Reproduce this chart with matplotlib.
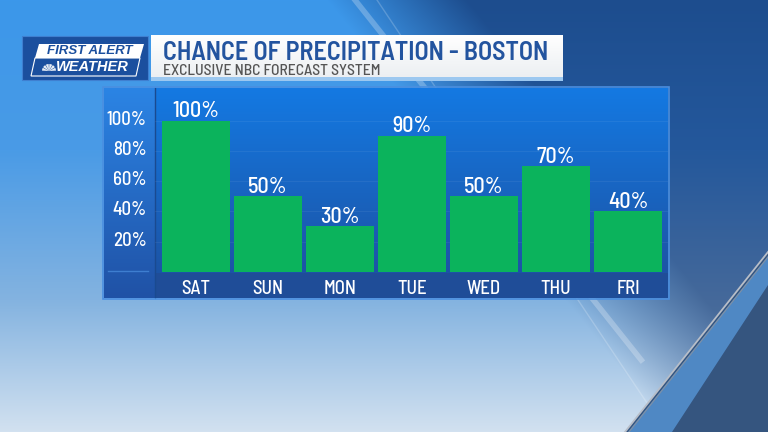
import numpy as np
import matplotlib
matplotlib.use('Agg')
import matplotlib.pyplot as plt
import matplotlib.transforms as mtrans
from matplotlib.patches import Rectangle, Polygon, Wedge
from matplotlib.colors import to_rgb

# chart data
days = ['SAT', 'SUN', 'MON', 'TUE', 'WED', 'THU', 'FRI']
precip = [100, 50, 30, 90, 50, 70, 40]
ytick_vals = [20, 40, 60, 80, 100]
ytick_labels = ['20%', '40%', '60%', '80%', '100%']
title = 'CHANCE OF PRECIPITATION - BOSTON'
subtitle = 'EXCLUSIVE NBC FORECAST SYSTEM'

W, H = 768, 432
plt.rcParams['font.family'] = ['Barlow Semi Condensed', 'Roboto Condensed', 'DejaVu Sans']

fig = plt.figure(figsize=(7.68, 4.32), dpi=100)
bg = fig.add_axes([0, 0, 1, 1])
bg.set_xlim(0, W)
bg.set_ylim(H, 0)
bg.axis('off')


def ramp(stops, n):
    ys = [s[0] for s in stops]
    cols = np.array([to_rgb(s[1]) for s in stops])
    y = np.linspace(ys[0], ys[-1], n)
    return np.stack([np.interp(y, ys, cols[:, k]) for k in range(3)], axis=1)


def vgrad(ax, x0, x1, y0, y1, c_top, c_bot, z):
    g = ramp([(0, c_top), (1, c_bot)], 64)[:, None, :]
    ax.imshow(g, extent=(x0, x1, y1, y0), aspect='auto', zorder=z, interpolation='bilinear')


# background
left = ramp([(0, '#3b97ea'), (150, '#4a9be6'), (300, '#84b3e0'), (431, '#d2e1f0')], H)
right = ramp([(0, '#1d4d8e'), (150, '#24589c'), (300, '#45699a'), (431, '#5d7ca6')], H)
yy, xx = np.mgrid[0:H, 0:W]
t = np.clip((xx - (355 + 0.795 * yy)) / 140 + 0.2, 0, 1)
img = left[:, None, :] * (1 - t[..., None]) + right[:, None, :] * t[..., None]
bg.imshow(img, extent=(0, W, H, 0), aspect='auto', zorder=0)

# light streaks
bg.plot([355, 355 + 0.795 * 360], [0, 360], color='white', alpha=0.25, lw=4, zorder=1)
bg.plot([377, 377 + 0.67 * 432], [0, 432], color='white', alpha=0.2, lw=1, zorder=1)
# bottom right corner
bg.add_patch(Polygon([(625, 432), (768, 252), (768, 432)], fc='#35557f', ec='none', zorder=1))
bg.add_patch(Polygon([(628, 432), (768, 256), (768, 285), (672, 432)], fc='#5b9ee2', ec='none', alpha=0.7, zorder=1))
bg.plot([625, 768], [432, 252], color='#b8bec8', lw=1.3, zorder=1)
bg.plot([629, 768], [432, 257], color='#8090a4', lw=0.8, zorder=1)

# logo
bg.add_patch(Rectangle((22, 36), 126, 44, fc='#1b4f9e', ec='#3f7fd0', lw=0.8, zorder=2))
bg.add_patch(Polygon([(39, 44), (144, 44), (140, 58), (35, 58)], fc='white', ec='none', zorder=3))
bg.add_patch(Polygon([(35, 58), (140, 58), (136, 76), (31, 76)], fill=False, ec='white', lw=0.8, zorder=3))
bg.text(90, 51.5, 'FIRST ALERT', color='#1b4f9e', family=['Liberation Sans', 'DejaVu Sans'],
        weight='bold', style='italic', size=9.5, ha='center', va='center', zorder=4)
bg.text(92, 67, 'WEATHER', color='white', family=['Liberation Sans', 'DejaVu Sans'],
        weight='bold', style='italic', size=10.5, ha='center', va='center', zorder=4)
for k in range(6):
    bg.add_patch(Wedge((49, 71), 7, 180 + k * 30 + 3, 180 + (k + 1) * 30 - 3,
                       fc='white', ec='none', alpha=0.9, zorder=4))

# title box
vgrad(bg, 151, 563, 35, 77, '#ffffff', '#eceff2', 2)
bg.add_patch(Rectangle((151, 77), 412, 3.5, fc='#9cc8f0', ec='none', zorder=2))
bg.text(163, 60, title, color='#23549f', weight=600, size=18.8, va='baseline', zorder=4)
bg.text(163, 75, subtitle, color='#555555', weight=500, size=11.2, va='baseline', zorder=4)

# chart panel
vgrad(bg, 104, 155, 88, 298, '#2b84e4', '#2052a6', 2)
vgrad(bg, 155, 668, 88, 273, '#1479e2', '#1c54a6', 2)
bg.add_patch(Rectangle((155, 273), 513, 25, fc='#1f4d98', ec='none', zorder=2))
bg.plot([155, 155], [88, 298], color='#1a4a90', lw=1, zorder=3)
bg.plot([108, 148], [271, 271], color='#3e7ed0', lw=1, zorder=3)
bg.add_patch(Rectangle((103, 87), 566, 212, fc='none', ec='#4a8fe0', lw=1.2, zorder=3))

# bars
px_per_pct = 1.51
zero_y = 271.7
ax = fig.add_axes([155 / W, (H - zero_y) / H, (668 - 155) / W, (zero_y - 88) / H])
ax.set_facecolor('none')
ax.set_ylim(0, (zero_y - 88) / px_per_pct)
ax.set_xlim(-(196 - 155) / 72, 6 + (668 - 628) / 72)
for v in ytick_vals:
    ax.axhline(v, color='white', alpha=0.06, lw=0.8, zorder=0)
x = np.arange(len(days))
ax.bar(x, precip, width=68 / 72, color='#0bb35c', zorder=2)
for i, v in enumerate(precip):
    ax.annotate(f'{v}%', (i, v), xytext=(0, 2.5), textcoords='offset points',
                ha='center', va='baseline', color='white', size=16, weight=500)
ax.set_yticks(ytick_vals, ytick_labels)
ax.set_xticks(x, days)
ax.tick_params(axis='y', length=0, pad=6, labelsize=13.5, labelcolor='white')
ax.tick_params(axis='x', length=0, pad=6, labelsize=13.5, labelcolor='white')
shift = mtrans.ScaledTranslation(0, 3 / 100, fig.dpi_scale_trans)
for lab in ax.get_yticklabels():
    lab.set_transform(lab.get_transform() + shift)
for lab in ax.get_xticklabels() + ax.get_yticklabels():
    lab.set_fontweight(500)
for s in ax.spines.values():
    s.set_visible(False)

fig.savefig('out.png', dpi=100)
